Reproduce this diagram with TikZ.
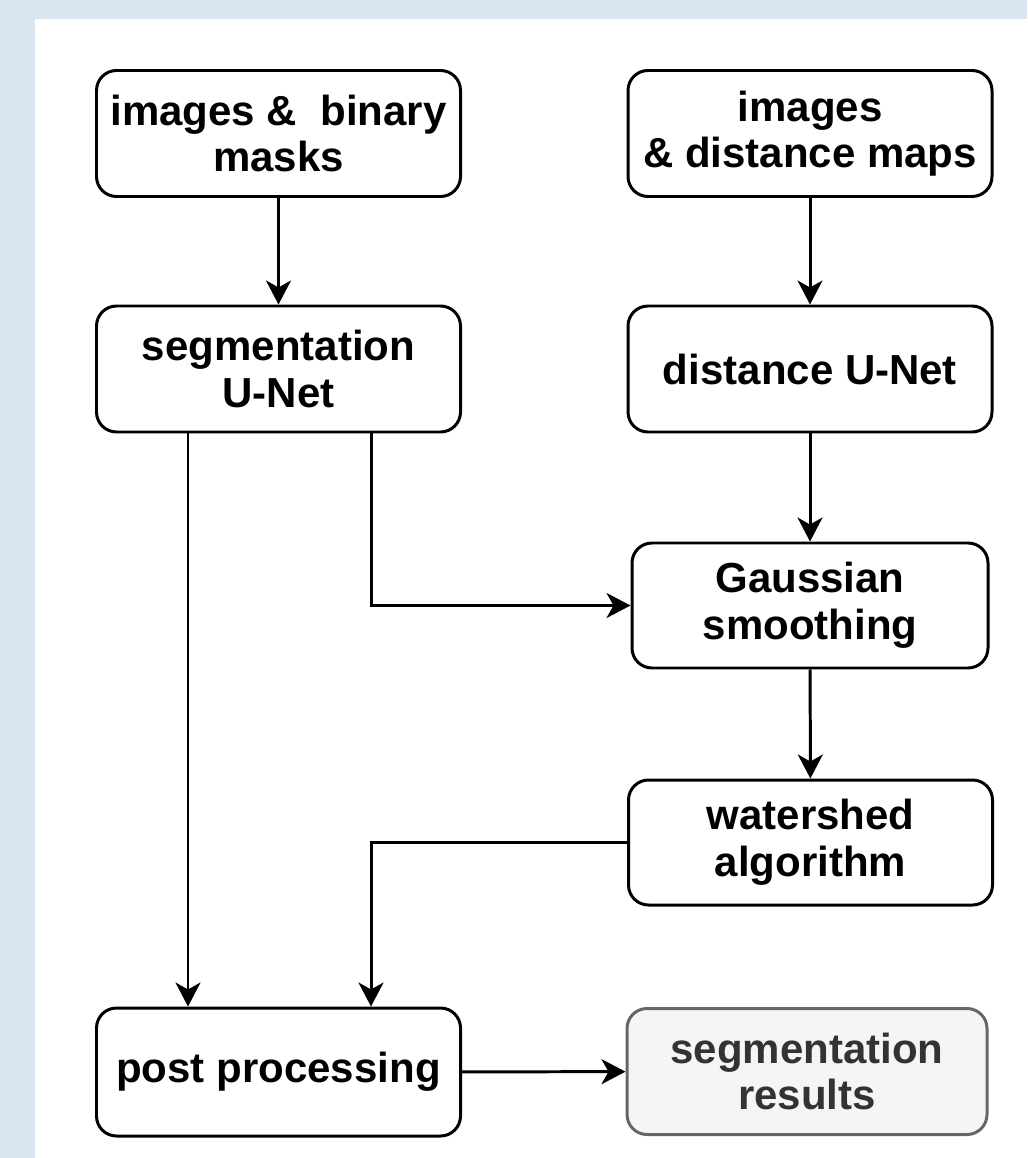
\documentclass[tikz,border=0pt]{standalone}
\usepackage{fontspec}
\setmainfont{Liberation Sans}
\usetikzlibrary{arrows.meta}
\definecolor{pagebg}{HTML}{DAE4F0}
\definecolor{resfill}{HTML}{F5F5F5}
\definecolor{resline}{HTML}{666666}
\definecolor{restext}{HTML}{333333}
\tikzset{
  stepbox/.style={draw, line width=1.7pt, rounded corners=0.4cm, minimum width=7.28cm,
    minimum height=2.52cm, align=center, inner sep=0pt,
    font=\fontsize{23.9}{26.5}\selectfont\bfseries},
  resultbox/.style={stepbox, draw=resline, fill=resfill, text=restext, minimum width=7.2cm},
  flow/.style={line width=1.7pt, -{Stealth[length=0.48cm, width=0.5cm, inset=0.14cm]}}
}
\begin{document}
\begin{tikzpicture}
\fill[pagebg] (0,0) rectangle (20.54,-23.16);
\fill[white] (0.7,-0.38) rectangle (20.54,-23.16);
\useasboundingbox (0,0) rectangle (20.54,-23.16);
\node[stepbox] (imgmask) at (5.57,-2.67)  {images \&\ \ binary\\masks};
\node[stepbox] (imgdist) at (16.2,-2.67)  {images\\\& distance maps};
\node[stepbox] (segnet)  at (5.57,-7.38)  {segmentation\\U-Net};
\node[stepbox] (distnet) at (16.2,-7.38)  {distance U-Net};
\node[stepbox, minimum width=7.12cm, minimum height=2.5cm] (gauss) at (16.2,-12.11) {Gaussian\\smoothing};
\node[stepbox, minimum height=2.5cm] (water) at (16.21,-16.85) {watershed\\algorithm};
\node[stepbox, minimum height=2.56cm] (post) at (5.57,-21.44) {post processing};
\node[resultbox] (result) at (16.14,-21.43) {segmentation\\results};
\draw[flow] (imgmask) -- (segnet);
\draw[flow] (imgdist) -- (distnet);
\draw[flow] (distnet) -- (gauss);
\draw[flow] (gauss) -- (water);
\draw[flow] ([xshift=-1.81cm]segnet.south) -- ([xshift=-1.81cm]post.north);
\draw[flow] ([xshift=1.85cm]segnet.south) |- (gauss.west);
\draw[flow] (water.west) -| ([xshift=1.85cm]post.north);
\draw[flow] (post) -- (result);
\end{tikzpicture}
\end{document}
